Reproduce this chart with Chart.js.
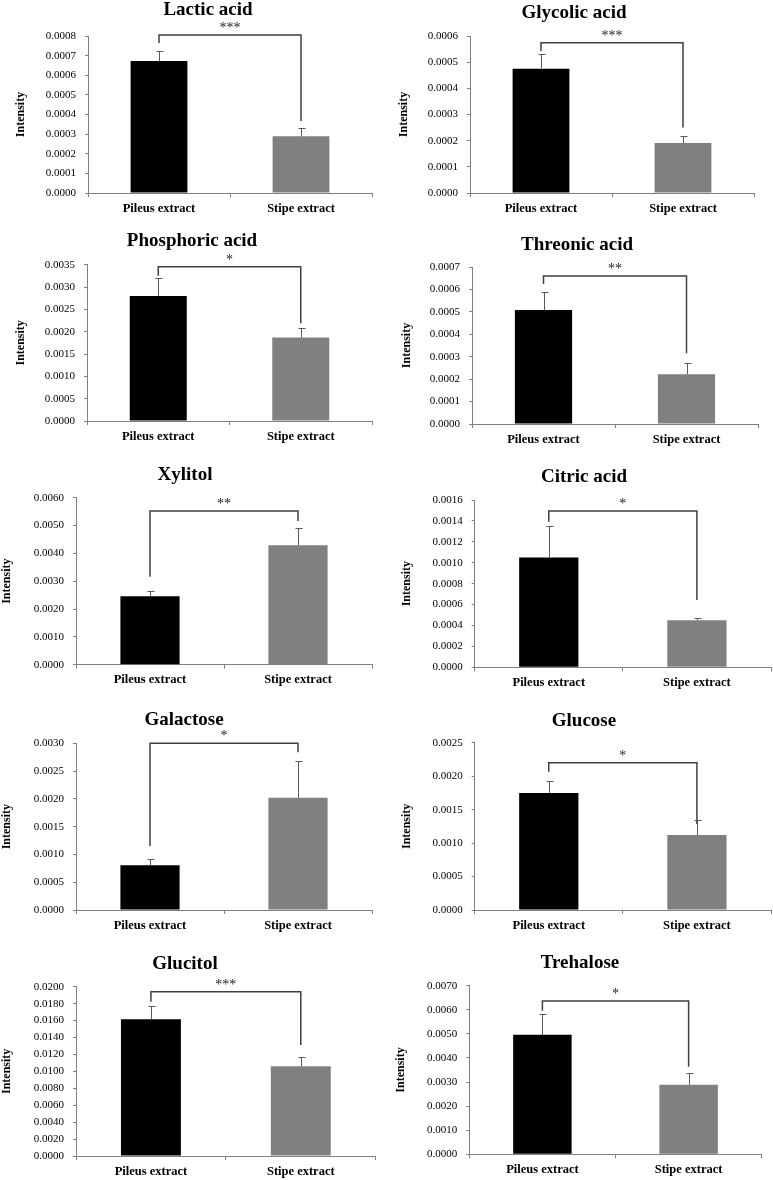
<!DOCTYPE html>
<html>
<head>
<meta charset="utf-8">
<script src="https://cdn.jsdelivr.net/npm/chart.js@4.4.0/dist/chart.umd.min.js"></script>
<style>
html, body { margin: 0; padding: 0; background: #fff; }
#page { position: relative; width: 773px; height: 1180px; overflow: hidden; }
#page canvas { position: absolute; }
</style>
</head>
<body>
<div id="page"></div>
<script>
// ---- data ----
const groups = ['Pileus extract', 'Stipe extract'];
const compounds = ['Lactic acid', 'Glycolic acid', 'Phosphoric acid', 'Threonic acid', 'Xylitol',
                   'Citric acid', 'Galactose', 'Glucose', 'Glucitol', 'Trehalose'];
const pileusMean = [0.000673, 0.000475, 0.00280, 0.000508, 0.00246, 0.00105, 0.000804, 0.00175, 0.01615, 0.00496];
const stipeMean  = [0.000289, 0.000191, 0.00187, 0.000222, 0.00429, 0.000449, 0.00202, 0.00112, 0.0106, 0.00289];
const pileusErr  = [0.000051, 0.000055, 0.00040, 0.000082, 0.00018, 0.000297, 0.000108, 0.000177, 0.00157, 0.00085];
const stipeErr   = [0.000042, 0.000028, 0.00021, 0.000051, 0.00061, 0.000023, 0.00066, 0.000225, 0.00113, 0.00047];
const stars = ['***', '***', '*', '**', '**', '*', '*', '*', '***', '*'];
const axisMax  = [0.0008, 0.0006, 0.0035, 0.0007, 0.006, 0.0016, 0.003, 0.0025, 0.02, 0.007];
const axisStep = [0.0001, 0.0001, 0.0005, 0.0001, 0.001, 0.0002, 0.0005, 0.0005, 0.002, 0.001];
// significance bracket (in intensity units): bar level, end of left leg, end of right leg
const bracketTop   = [0.000805, 0.000574, 0.003455, 0.00066, 0.00552, 0.001495, 0.003, 0.0022, 0.01941, 0.006365];
const bracketLeft  = [0.000764, 0.000543, 0.003254, 0.000624, 0.00316, 0.001393, 0.00115, 0.002067, 0.01823, 0.00596];
const bracketRight = [0.000367, 0.00025, 0.002188, 0.000315, 0.00516, 0.000644, 0.00284, 0.001285, 0.01311, 0.003637];

// ---- panel layout: cell x, y, w, h, axis x, plot top, plot bottom, plot right, title x, title baseline, y-title x
const layout = [
  [0,   0,   386, 230, 88,   36,   193,   372,   208, 15,   21],
  [386, 0,   387, 230, 84,   36,   193,   368,   188, 18.3, 18],
  [0,   230, 386, 230, 87,   34.7, 191,   372,   192, 15.7, 21],
  [386, 230, 387, 230, 86,   37,   194,   372,   191, 20,   21],
  [0,   460, 386, 240, 76,   37.7, 204.7, 372,   185, 20,   7],
  [386, 460, 387, 240, 88.7, 40,   207.3, 385,   198, 22,   21],
  [0,   700, 386, 240, 76,   43.3, 210,   372,   184, 25,   7],
  [386, 700, 387, 240, 88.7, 42.7, 210,   385,   198, 25.7, 21],
  [0,   940, 386, 240, 76,   46.7, 216,   375.7, 185, 29,   7],
  [386, 940, 387, 240, 83.3, 45.7, 214.3, 375.7, 194, 27.7, 15]
];

const SERIF = '"Liberation Serif", "Times New Roman", serif';

// title, error bars, significance bracket
const decoPlugin = {
  id: 'deco',
  afterDatasetsDraw(chart, args, opts) {
    const i = opts.idx;
    const L = layout[i];
    const ctx = chart.ctx;
    const y = chart.scales.y;
    const bars = chart.getDatasetMeta(0).data;
    const means = [pileusMean[i], stipeMean[i]];
    const errs = [pileusErr[i], stipeErr[i]];
    ctx.save();
    // plus-only error bars
    ctx.strokeStyle = '#5a5a5a';
    ctx.lineWidth = 1;
    bars.forEach((b, k) => {
      const x = Math.round(b.x) + 0.5;
      const y0 = y.getPixelForValue(means[k]);
      const y1 = Math.round(y.getPixelForValue(means[k] + errs[k])) + 0.5;
      ctx.beginPath();
      ctx.moveTo(x, y0);
      ctx.lineTo(x, y1);
      ctx.moveTo(x - 3, y1);
      ctx.lineTo(x + 4, y1);
      ctx.stroke();
    });
    // bracket
    const xl = bars[0].x, xr = bars[1].x;
    const yt = y.getPixelForValue(bracketTop[i]);
    ctx.strokeStyle = '#404040';
    ctx.lineWidth = 1.5;
    ctx.beginPath();
    ctx.moveTo(xl, y.getPixelForValue(bracketLeft[i]));
    ctx.lineTo(xl, yt);
    ctx.lineTo(xr, yt);
    ctx.lineTo(xr, y.getPixelForValue(bracketRight[i]));
    ctx.stroke();
    ctx.fillStyle = '#222';
    ctx.font = '14px ' + SERIF;
    ctx.textAlign = 'center';
    ctx.textBaseline = 'alphabetic';
    ctx.fillText(stars[i], (xl + xr) / 2, yt - 3);
    // panel title
    ctx.fillStyle = '#000';
    ctx.font = 'bold 19px ' + SERIF;
    ctx.fillText(compounds[i], L[8], L[9]);
    ctx.restore();
  }
};

const page = document.getElementById('page');
compounds.forEach((name, i) => {
  const [cx, cy, cw, ch, axisX, top, bottom, right, , , ix] = layout[i];
  const cv = document.createElement('canvas');
  cv.width = cw;
  cv.height = ch;
  cv.style.left = cx + 'px';
  cv.style.top = cy + 'px';
  cv.style.width = cw + 'px';
  cv.style.height = ch + 'px';
  page.appendChild(cv);
  const pl = Math.max(0, ix - 7.2);

  new Chart(cv, {
    type: 'bar',
    data: {
      labels: groups,
      datasets: [{
        data: [pileusMean[i], stipeMean[i]],
        backgroundColor: ['#000000', '#808080'],
        borderWidth: 0,
        barPercentage: 0.4,
        categoryPercentage: 1.0
      }]
    },
    options: {
      responsive: false,
      animation: false,
      events: [],
      layout: { padding: { left: pl, top: top, right: cw - right, bottom: 0 } },
      plugins: {
        legend: { display: false },
        tooltip: { enabled: false },
        deco: { idx: i }
      },
      scales: {
        x: {
          grid: { offset: true, drawOnChartArea: false, tickLength: 4, color: '#808080' },
          border: { color: '#808080', width: 1 },
          ticks: { color: '#000', padding: 4, font: { family: SERIF, size: 12.5, weight: 'bold' } },
          afterFit: s => { s.height = ch - bottom; }
        },
        y: {
          min: 0,
          max: axisMax[i],
          grid: { drawOnChartArea: false, tickLength: 3, color: '#808080' },
          border: { color: '#808080', width: 1 },
          ticks: {
            stepSize: axisStep[i],
            color: '#000',
            padding: 9,
            font: { family: SERIF, size: 11 },
            callback: v => Number(v).toFixed(4)
          },
          title: {
            display: true,
            text: 'Intensity',
            color: '#000',
            padding: 0,
            font: { family: SERIF, size: 12, weight: 'bold' }
          },
          afterFit: s => { s.width = axisX - pl; }
        }
      }
    },
    plugins: [decoPlugin]
  });
});
</script>
</body>
</html>
